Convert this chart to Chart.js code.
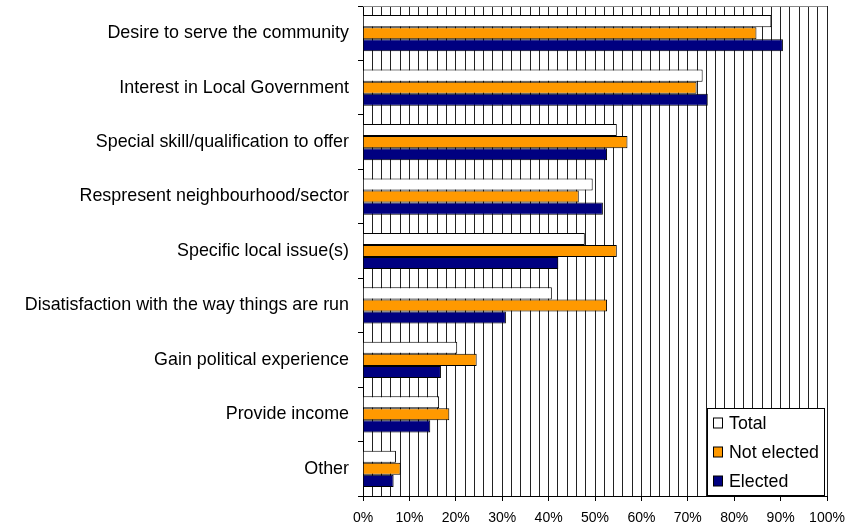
<!DOCTYPE html>
<html>
<head>
<meta charset="utf-8">
<script src="https://cdn.jsdelivr.net/npm/chart.js@4"></script>
<style>
  html, body { margin: 0; padding: 0; background: #fff; }
  #wrap { width: 861px; height: 526px; }
</style>
</head>
<body>
<div id="wrap"><canvas id="c" width="861" height="526"></canvas></div>
<script>
const categories = [
  "Desire to serve the community",
  "Interest in Local Government",
  "Special skill/qualification to offer",
  "Respresent neighbourhood/sector",
  "Specific local issue(s)",
  "Disatisfaction with the way things are run",
  "Gain political experience",
  "Provide income",
  "Other"
];
const seriesNames = ["Total", "Not elected", "Elected"];
const total      = [88.0, 73.2, 54.7, 49.5, 47.8, 40.7, 20.3, 16.4, 7.1];
const notElected = [84.8, 71.9, 57.0, 46.5, 54.7, 52.6, 24.5, 18.6, 8.1];
const elected    = [90.5, 74.3, 52.6, 51.7, 42.1, 30.8, 16.8, 14.5, 6.6];
const seriesColors = ["#FFFFFF", "#FF9900", "#000080"];
const xTickLabels = ["0%", "10%", "20%", "30%", "40%", "50%", "60%", "70%", "80%", "90%", "100%"];

const FONT = "'Liberation Sans', Arial, sans-serif";

const topLine = {
  id: 'topLine',
  beforeDatasetsDraw(chart) {
    const a = chart.chartArea, ctx = chart.ctx;
    ctx.save();
    ctx.strokeStyle = '#888';
    ctx.lineWidth = 1;
    ctx.beginPath();
    ctx.moveTo(a.left, Math.round(a.top) + 0.5);
    ctx.lineTo(a.right, Math.round(a.top) + 0.5);
    ctx.stroke();
    ctx.restore();
  }
};

const boxLegend = {
  id: 'boxLegend',
  afterDatasetsDraw(chart) {
    const ctx = chart.ctx;
    const x0 = 707.5, y0 = 408.5, w = 117, h = 87;
    ctx.save();
    ctx.fillStyle = '#fff';
    ctx.fillRect(x0, y0, w, h);
    ctx.strokeStyle = '#000';
    ctx.lineWidth = 1;
    ctx.strokeRect(x0, y0, w, h);
    ctx.font = "17.8px " + FONT;
    ctx.textBaseline = 'middle';
    ctx.textAlign = 'left';
    chart.data.datasets.forEach((ds, i) => {
      const cy = 423 + i * 29;
      ctx.fillStyle = ds.backgroundColor;
      ctx.fillRect(713.5, cy - 5, 9, 10);
      ctx.strokeStyle = '#000';
      ctx.strokeRect(713.5, cy - 5, 9, 10);
      ctx.fillStyle = '#000';
      ctx.fillText(ds.label, 729, cy + 1);
    });
    ctx.restore();
  }
};

new Chart(document.getElementById('c'), {
  type: 'bar',
  data: {
    labels: categories,
    datasets: [
      { label: seriesNames[0], data: total,      backgroundColor: seriesColors[0] },
      { label: seriesNames[1], data: notElected, backgroundColor: seriesColors[1] },
      { label: seriesNames[2], data: elected,    backgroundColor: seriesColors[2] }
    ]
  },
  options: {
    indexAxis: 'y',
    responsive: false,
    animation: false,
    devicePixelRatio: 1,
    layout: { padding: { top: 6, right: 34, bottom: 0, left: 0 } },
    datasets: {
      bar: {
        borderColor: '#000',
        borderWidth: 1,
        categoryPercentage: 0.665,
        barPercentage: 1.0
      }
    },
    plugins: {
      legend: { display: false },
      tooltip: { enabled: false }
    },
    scales: {
      x: {
        min: 0, max: 100,
        afterFit(s) { s.height = 30; s.paddingLeft = 0; s.paddingRight = 0; },
        afterBuildTicks(s) {
          const t = [];
          for (let v = 0; v <= 100; v += 2) t.push({ value: v });
          s.ticks = t;
        },
        ticks: {
          autoSkip: false,
          maxRotation: 0,
          padding: 9,
          color: '#000',
          font: { family: FONT, size: 14 },
          callback: (v) => (v % 10 === 0 ? xTickLabels[v / 10] : '')
        },
        grid: {
          color: '#222',
          lineWidth: 1,
          tickLength: 5,
          tickColor: (c) => (c.tick && c.tick.value % 10 === 0 ? '#000' : 'rgba(0,0,0,0)')
        },
        border: { color: '#000', width: 1 }
      },
      y: {
        afterFit(s) { s.width = 363; s.paddingTop = 0; s.paddingBottom = 0; },
        ticks: {
          autoSkip: false,
          padding: 9,
          color: '#000',
          font: { family: FONT, size: 17.9 }
        },
        grid: {
          drawOnChartArea: false,
          tickLength: 5,
          tickColor: '#000',
          offset: true
        },
        border: { color: '#000', width: 1 }
      }
    }
  },
  plugins: [topLine, boxLegend]
});
</script>
</body>
</html>
